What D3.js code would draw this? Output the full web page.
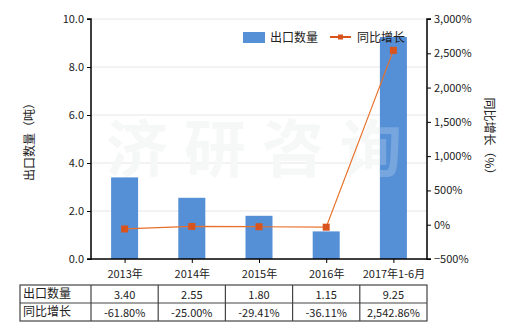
<!DOCTYPE html>
<html>
<head>
<meta charset="utf-8">
<script src="https://cdn.jsdelivr.net/npm/d3@7"></script>
<style>
  body { margin: 0; background: #fff; }
  text { font-family: "Noto Sans CJK SC", "DejaVu Sans", sans-serif; }
</style>
</head>
<body>
<svg id="chart" width="520" height="330"></svg>
<script>
var categories = ["2013年", "2014年", "2015年", "2016年", "2017年1-6月"];
var qty = [3.40, 2.55, 1.80, 1.15, 9.25];
var growth = [-61.80, -25.00, -29.41, -36.11, 2542.86];
var qtyLabels = ["3.40", "2.55", "1.80", "1.15", "9.25"];
var growthLabels = ["-61.80%", "-25.00%", "-29.41%", "-36.11%", "2,542.86%"];
var leftTicks = [0, 2, 4, 6, 8, 10];
var rightTicks = [-500, 0, 500, 1000, 1500, 2000, 2500, 3000];

var svg = d3.select("#chart");
var plotL = 91, plotR = 427, plotT = 19, plotB = 259;

var xc = d3.scalePoint().domain(categories).range([plotL, plotR]).padding(0.5);
var yL = d3.scaleLinear().domain([0, 10]).range([plotB, plotT]);
var yR = d3.scaleLinear().domain([-500, 3000]).range([plotB, plotT]);
var barW = 27;

// grid
svg.append("g").selectAll("line").data(leftTicks.slice(1)).enter().append("line")
  .attr("x1", plotL).attr("x2", plotR)
  .attr("y1", function(d){ return yL(d); }).attr("y2", function(d){ return yL(d); })
  .style("stroke", "#e6e6e6").style("stroke-width", 1);

// watermark
svg.append("text").attr("x", 262).attr("y", 172).attr("text-anchor", "middle")
  .style("font-size", "62px").style("font-weight", "bold").style("fill", "#f4f6f5")
  .style("letter-spacing", "16px").text("济研咨询");

// bars
svg.append("g").selectAll("rect").data(qty).enter().append("rect")
  .attr("x", function(d, i){ return xc(categories[i]) - barW / 2; })
  .attr("width", barW)
  .attr("y", function(d){ return yL(d); })
  .attr("height", function(d){ return plotB - yL(d); })
  .style("fill", "#558fd6");

// watermark over bars (lighter)
svg.append("text").attr("x", 262).attr("y", 172).attr("text-anchor", "middle")
  .style("font-size", "62px").style("font-weight", "bold").style("fill", "#ffffff")
  .style("opacity", 0.2)
  .style("letter-spacing", "16px").text("济研咨询");

// line
var line = d3.line()
  .x(function(d, i){ return xc(categories[i]); })
  .y(function(d){ return yR(d); });
svg.append("path").datum(growth).attr("d", line)
  .style("fill", "none").style("stroke", "#e8712a").style("stroke-width", 1.2);
svg.append("g").selectAll("rect").data(growth).enter().append("rect")
  .attr("x", function(d, i){ return xc(categories[i]) - 3.5; })
  .attr("y", function(d){ return yR(d) - 3.5; })
  .attr("width", 7).attr("height", 7)
  .style("fill", "#d9531c");

// axes
var axL = svg.append("g").attr("transform", "translate(" + plotL + ",0)")
  .call(d3.axisLeft(yL).tickValues(leftTicks).tickFormat(d3.format(".1f")).tickSize(4));
var axR = svg.append("g").attr("transform", "translate(" + plotR + ",0)")
  .call(d3.axisRight(yR).tickValues(rightTicks).tickFormat(function(d){ return d3.format(",")(d) + "%"; }).tickSize(4));
var axB = svg.append("g").attr("transform", "translate(0," + plotB + ")")
  .call(d3.axisBottom(xc).tickSize(4).tickPadding(7));
[axL, axR, axB].forEach(function(a){
  a.select(".domain").style("stroke", "#000").style("stroke-width", 1.5);
  a.selectAll(".tick line").style("stroke", "#000");
  a.selectAll("text").style("font-size", "11px").style("fill", "#222")
    .style("font-family", "\"Noto Sans CJK SC\", sans-serif");
});
axB.select(".domain").attr("d", "M" + plotL + ",0H" + plotR);
axL.select(".domain").attr("d", "M-4," + plotT + "H0V" + plotB + "H-4");
axR.select(".domain").attr("d", "M4," + plotT + "H0V" + plotB + "H4");

// axis titles
svg.append("text").attr("transform", "translate(34,139)rotate(-90)")
  .attr("text-anchor", "middle").style("font-size", "12px").style("fill", "#222")
  .text("出口数量（吨）");
svg.append("text").attr("transform", "translate(485,139)rotate(90)")
  .attr("text-anchor", "middle").style("font-size", "12px").style("fill", "#222")
  .text("同比增长（%）");

// legend
svg.append("rect").attr("x", 243).attr("y", 32).attr("width", 22).attr("height", 11).style("fill", "#558fd6");
svg.append("text").attr("x", 270).attr("y", 42).style("font-size", "12px").style("fill", "#222").text("出口数量");
svg.append("line").attr("x1", 330).attr("x2", 351).attr("y1", 37).attr("y2", 37)
  .style("stroke", "#d9531c").style("stroke-width", 2);
svg.append("rect").attr("x", 338).attr("y", 34.5).attr("width", 5).attr("height", 5).style("fill", "#d9531c");
svg.append("text").attr("x", 357).attr("y", 42).style("font-size", "12px").style("fill", "#222").text("同比增长");

// table
var tTop = 285, rowH = 18, tLeft = 20;
var rows = [["出口数量", qtyLabels], ["同比增长", growthLabels]];
var tb = svg.append("g");
tb.append("rect").attr("x", tLeft).attr("y", tTop).attr("width", plotR - tLeft).attr("height", rowH * 2)
  .style("fill", "none").style("stroke", "#444").style("stroke-width", 1.2);
tb.append("line").attr("x1", tLeft).attr("x2", plotR).attr("y1", tTop + rowH).attr("y2", tTop + rowH)
  .style("stroke", "#444").style("stroke-width", 1.2);
var colEdges = categories.map(function(c){ return xc(c) - xc.step() / 2; });
colEdges.forEach(function(e){
  tb.append("line").attr("x1", e).attr("x2", e).attr("y1", tTop).attr("y2", tTop + rowH * 2)
    .style("stroke", "#444").style("stroke-width", 1.2);
});
rows.forEach(function(r, ri){
  var yy = tTop + rowH * ri + 14;
  tb.append("text").attr("x", tLeft + 3).attr("y", yy - 1).style("font-size", "12px").style("fill", "#222").text(r[0]);
  tb.selectAll(null).data(r[1]).enter().append("text")
    .attr("x", function(d, i){ return xc(categories[i]); })
    .attr("y", yy).attr("text-anchor", "middle")
    .style("font-size", "11px").style("fill", "#222").text(function(d){ return d; });
});
</script>
</body>
</html>
